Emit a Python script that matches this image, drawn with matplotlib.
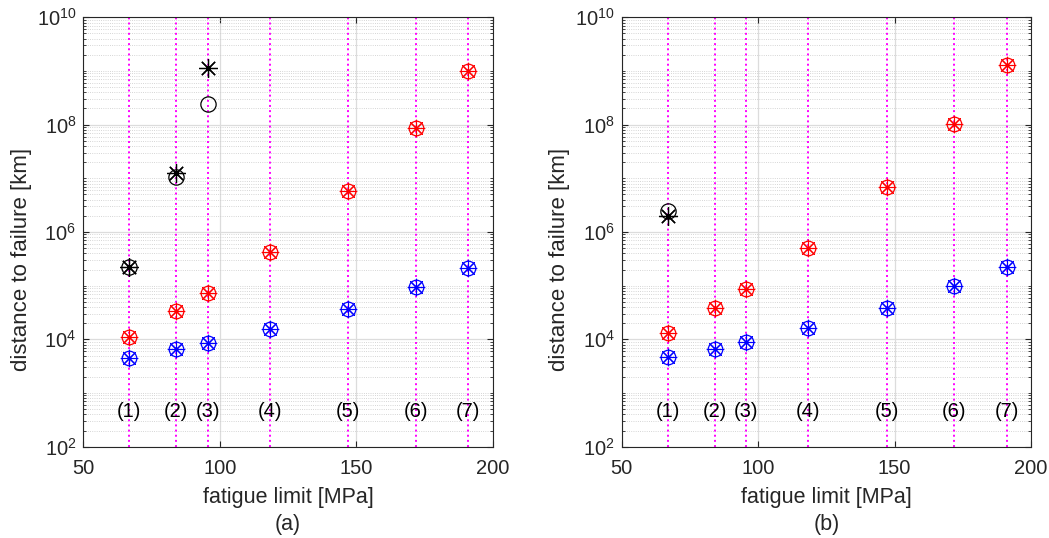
import matplotlib
matplotlib.use("Agg")
import matplotlib.pyplot as plt
from matplotlib.ticker import LogLocator, FixedLocator, NullFormatter, LogFormatterMathtext
import numpy as np

plt.rcParams['font.family'] = ['Liberation Sans', 'DejaVu Sans']
plt.rcParams['mathtext.fontset'] = 'custom'
plt.rcParams['mathtext.rm'] = 'Liberation Sans'
plt.rcParams['mathtext.it'] = 'Liberation Sans'

# data
fatigue_limit = [66.8, 84.1, 95.6, 118.4, 147.1, 171.9, 191.0]
case_labels = ['(1)', '(2)', '(3)', '(4)', '(5)', '(6)', '(7)']

a_blue = [4470, 6600, 8700, 15800, 37500, 93000, 218000]
a_red = [11200, 34000, 74000, 430000, 5.8e6, 8.7e7, 1.0e9]
a_black_x = [66.8, 84.1, 95.6]
a_black_circle = [2.25e5, 1.05e7, 2.4e8]
a_black_star = [2.25e5, 1.23e7, 1.12e9]

b_blue = [4700, 6700, 8900, 16300, 38700, 97000, 225000]
b_red = [12900, 39000, 87000, 510000, 6.9e6, 1.05e8, 1.3e9]
b_black_x = [66.8]
b_black_circle = [2.45e6]
b_black_star = [2.0e6]

panels = [
    ('(a)', a_blue, a_red, a_black_x, a_black_circle, a_black_star),
    ('(b)', b_blue, b_red, b_black_x, b_black_circle, b_black_star),
]

fig = plt.figure(figsize=(10.49, 5.38), dpi=100)
lefts = [83.3 / 1049, 621.7 / 1049]
W = 409.4 / 1049
B = (538 - 446.7) / 538
H = 429.4 / 538

star = (8, 2, 0)
dark = '#262626'
for i, (cap, blue, red, bx, bc, bs) in enumerate(panels):
    ax = fig.add_axes([lefts[i], B, W, H])
    ax.set_yscale('log')
    ax.set_xlim(50, 200)
    ax.set_ylim(1e2, 1e10)
    ax.set_xticks([50, 100, 150, 200])
    ax.yaxis.set_major_locator(FixedLocator([1e2, 1e4, 1e6, 1e8, 1e10]))
    ax.yaxis.set_major_formatter(LogFormatterMathtext())
    ax.yaxis.set_minor_locator(LogLocator(base=10, subs=np.arange(1, 10), numticks=50))
    ax.yaxis.set_minor_formatter(NullFormatter())
    ax.grid(True, which='major', color='#dcdcdc', lw=0.9, ls='-')
    ax.grid(True, which='minor', axis='y', color='#c8c8c8', lw=0.6, ls=':')
    ax.set_axisbelow(True)
    ax.tick_params(direction='in', which='both', top=True, right=True,
                   labelsize=14.5, colors=dark, length=4)
    ax.tick_params(axis='x', pad=9)
    ax.tick_params(axis='y', pad=5)
    ax.tick_params(which='minor', length=2)
    for s in ax.spines.values():
        s.set_color(dark)
        s.set_linewidth(0.8)

    for x, lab in zip(fatigue_limit, case_labels):
        ax.axvline(x, color='#ff00ff', ls=':', lw=1.4, zorder=1.5)
        ax.text(x, 450, lab, ha='center', va='center', fontsize=14.5, color='black')

    for ys, col in ((blue, 'blue'), (red, 'red')):
        ax.plot(fatigue_limit, ys, ls='none', marker='o', ms=10.5, mfc='none', mec=col, mew=0.9, zorder=3)
        ax.plot(fatigue_limit, ys, ls='none', marker=star, ms=12.5, mec=col, mfc=col, mew=0.8, zorder=3)
        ax.plot(fatigue_limit, ys, ls='none', marker='.', ms=3, color=col, zorder=3)
    ax.plot(bx, bc, ls='none', marker='o', ms=11, mfc='none', mec='black', mew=0.9, zorder=3)
    ax.plot(bx, bs, ls='none', marker=star, ms=13.5, mec='black', mfc='black', mew=0.9, zorder=3)

    ax.set_xlabel('fatigue limit [MPa]', fontsize=15.5, color=dark, labelpad=6)
    ax.set_ylabel('distance to failure [km]', fontsize=16, color=dark, va='center')
    ax.yaxis.set_label_coords(-0.151, 0.435)
    fig.text(lefts[i] + W / 2, 0.025, cap, ha='center', va='center', fontsize=15.5, color=dark)

fig.savefig('out.png', dpi=100)
